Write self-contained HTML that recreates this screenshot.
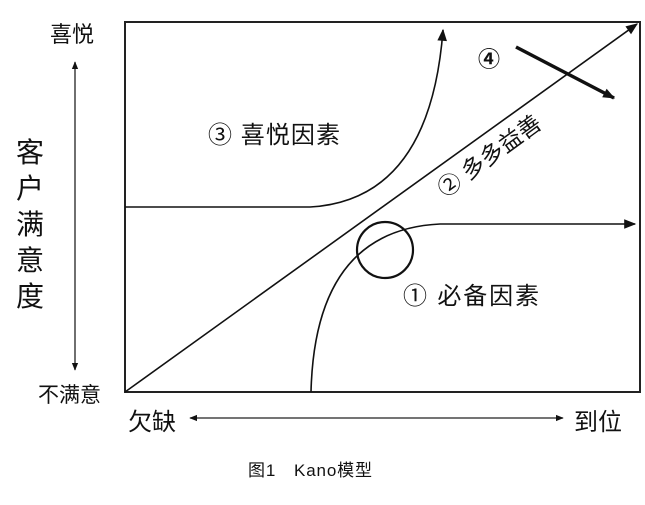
<!DOCTYPE html>
<html><head><meta charset="utf-8"><style>
body{margin:0;background:#fff;}
svg text{font-family:"Liberation Sans","Noto Sans CJK SC",sans-serif;fill:#111;}
</style></head><body>
<svg width="645" height="500" viewBox="0 0 645 500" xmlns="http://www.w3.org/2000/svg">
<defs>
<marker id="a" viewBox="0 0 10 10" refX="9" refY="5" markerWidth="8" markerHeight="8" orient="auto-start-reverse" markerUnits="userSpaceOnUse"><path d="M0,1 L10,5 L0,9 Z" fill="#111"/></marker>
<marker id="b" viewBox="0 0 10 10" refX="9" refY="5" markerWidth="14" markerHeight="12" orient="auto" markerUnits="userSpaceOnUse"><path d="M0,1 L10,5 L0,9 Z" fill="#111"/></marker>
</defs>
<rect x="125" y="22" width="515" height="370" fill="none" stroke="#222" stroke-width="2"/>
<line x1="125" y1="392" x2="637" y2="24" stroke="#111" stroke-width="1.6" marker-end="url(#b)"/>
<path d="M125,207 L310,207 Q430,200 443,30" fill="none" stroke="#111" stroke-width="1.6" marker-end="url(#b)"/>
<path d="M311,392 Q315,230 440,224 L635,224" fill="none" stroke="#111" stroke-width="1.6" marker-end="url(#b)"/>
<circle cx="385" cy="250" r="28" fill="none" stroke="#111" stroke-width="2.2"/>
<line x1="516" y1="47" x2="614" y2="98" stroke="#111" stroke-width="3.5" marker-end="url(#b)"/>
<line x1="75" y1="370" x2="75" y2="62" stroke="#222" stroke-width="1.3" marker-start="url(#a)" marker-end="url(#a)"/>
<line x1="190" y1="418" x2="563" y2="418" stroke="#222" stroke-width="1.3" marker-start="url(#a)" marker-end="url(#a)"/>
<text x="50" y="42" font-size="22">喜悦</text>
<text x="38" y="402" font-size="21">不满意</text>
<text x="128" y="430" font-size="24">欠缺</text>
<text x="574" y="430" font-size="24">到位</text>
<g font-size="28">
<text x="16" y="162">客</text><text x="16" y="198">户</text><text x="16" y="234">满</text><text x="16" y="270">意</text><text x="16" y="306">度</text>
</g>
<text x="208" y="143" font-size="24" textLength="132">③ 喜悦因素</text>
<text x="403" y="304" font-size="24" textLength="136">① 必备因素</text>
<text x="478" y="67" font-size="22" font-weight="bold">④</text>
<text transform="translate(445,198) rotate(-36)" font-size="23">② 多多益善</text>
<text x="248" y="476" font-size="17" textLength="124">图1　Kano模型</text>
</svg>
</body></html>
